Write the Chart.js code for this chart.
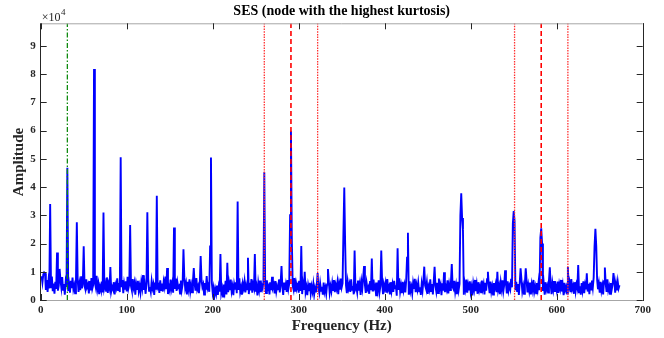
<!DOCTYPE html>
<html>
<head>
<meta charset="utf-8">
<script src="https://cdn.jsdelivr.net/npm/chart.js@4/dist/chart.umd.min.js"></script>
<style>
  html, body { margin: 0; padding: 0; background: #fff; }
  #wrap { width: 664px; height: 338px; }
</style>
</head>
<body>
<div id="wrap"><canvas id="chart" width="664" height="338"></canvas></div>
<script>
// SES spectrum, amplitudes in units of 1e4

const startHz = 1; // first frequency bin, 1 Hz spacing

// noise floor, one value per Hz (1..673)
const noise = [
  .85,.62,.9,.48,.95,.36,.71,.29,.66,.41,.78,.45,.83,.31,.58,.22,.64,.39,.76,.33,
  .51,.27,.69,.44,.81,.36,.57,.19,.63,.47,.74,.32,.55,.26,.68,.42,.79,.38,.52,.24,
  .66,.43,.71,.29,.58,.35,.84,.41,.62,.18,.49,.37,.73,.46,.55,.23,.67,.34,.78,.4,
  .53,.3,.61,.45,.86,.39,.57,.21,.48,.36,.65,.27,.72,.44,.59,.33,.8,.25,.56,.42,
  .69,.31,.47,.38,.63,.2,.54,.43,.77,.35,.6,.28,.52,.46,.71,.24,.58,.37,.66,.3,
  .82,.41,.55,.26,.49,.34,.74,.45,.61,.19,.57,.39,.68,.32,.5,.27,.64,.43,.88,.36,
  .53,.22,.6,.4,.75,.33,.46,.29,.67,.42,.56,.18,.62,.37,.79,.44,.51,.25,.7,.35,
  .58,.3,.65,.47,.83,.38,.54,.21,.48,.34,.72,.41,.6,.26,.57,.39,.76,.32,.63,.45,
  .5,.23,.69,.36,.55,.28,.81,.43,.59,.2,.64,.4,.73,.31,.52,.27,.66,.44,.57,.33,
  .78,.38,.49,.24,.62,.35,.7,.46,.56,.19,.6,.37,.85,.42,.53,.29,.68,.34,.61,.26,
  .44,.15,.38,.22,.51,.18,.47,.3,.62,.25,.41,.12,.55,.33,.68,.2,.46,.28,.59,.35,
  .72,.31,.48,.17,.56,.4,.63,.24,.5,.36,.77,.29,.45,.19,.58,.42,.66,.27,.53,.38,
  .49,.21,.61,.34,.74,.26,.55,.43,.8,.3,.47,.16,.6,.37,.69,.28,.52,.41,.64,.33,
  .57,.25,.7,.39,.48,.2,.63,.35,.82,.44,.54,.23,.67,.31,.5,.38,.73,.27,.59,.42,
  .46,.18,.62,.36,.55,.29,.71,.4,.58,.33,.65,.24,.51,.37,.78,.3,.6,.43,.53,.26,
  .68,.32,.49,.21,.57,.36,.74,.28,.45,.17,.52,.34,.61,.23,.48,.3,.56,.2,.43,.27,
  .5,.16,.41,.25,.58,.33,.47,.19,.62,.29,.44,.22,.55,.38,.66,.26,.49,.31,.6,.35,
  .71,.28,.54,.4,.63,.21,.57,.37,.76,.45,.59,.3,.68,.34,.52,.24,.65,.41,.56,.29,
  .73,.36,.5,.2,.61,.39,.47,.27,.69,.33,.55,.18,.64,.42,.8,.31,.53,.25,.6,.38,
  .46,.22,.67,.35,.58,.3,.72,.43,.51,.17,.62,.37,.7,.28,.49,.34,.65,.21,.56,.4,
  .59,.26,.74,.38,.48,.2,.63,.33,.55,.29,.68,.41,.52,.15,.6,.36,.77,.3,.5,.24,
  .64,.35,.53,.27,.71,.42,.58,.19,.66,.32,.47,.23,.6,.39,.75,.28,.54,.37,.62,.31,
  .45,.18,.57,.34,.69,.26,.51,.4,.63,.22,.48,.36,.73,.29,.56,.2,.65,.38,.5,.3,
  .61,.25,.76,.41,.54,.17,.59,.33,.67,.28,.49,.37,.7,.23,.55,.35,.62,.27,.46,.39,
  .68,.3,.52,.21,.64,.36,.57,.44,.79,.32,.5,.19,.6,.4,.72,.26,.53,.34,.66,.29,
  .47,.16,.58,.38,.71,.31,.55,.22,.63,.35,.49,.27,.69,.4,.56,.2,.61,.33,.74,.37,
  .52,.24,.65,.3,.48,.19,.6,.42,.57,.28,.67,.36,.51,.21,.62,.39,.7,.32,.54,.26,
  .59,.23,.66,.34,.5,.38,.75,.45,.8,.4,.7,.35,.64,.29,.56,.18,.61,.37,.73,.31,
  .49,.22,.58,.41,.68,.27,.53,.33,.62,.2,.55,.36,.71,.3,.47,.24,.6,.39,.66,.35,
  .72,.4,.78,.32,.57,.19,.63,.37,.5,.26,.69,.34,.54,.21,.6,.38,.67,.29,.48,.33,
  .65,.25,.56,.4,.71,.3,.52,.17,.61,.36,.47,.23,.68,.34,.58,.28,.74,.39,.5,.22,
  .63,.31,.55,.42,.7,.27,.49,.19,.6,.35,.66,.24,.53,.38,.76,.3,.57,.21,.62,.37,
  .69,.44,.8,.9,1.1,.95,.72,.38,.59,.26,.64,.33,.51,.2,.67,.4,.56,.29,.73,.35,
  .48,.22,.6,.37,.54,.3,.7,.26,.58,.34,.65,.41,.52
];

// spectral peaks
const peakHz  = [4, 11, 19, 22, 31, 42, 50, 62, 73, 81, 93, 104, 124, 135, 147, 155, 166, 178, 186,
                 197, 198, 209, 217, 229, 241, 249, 260, 280, 290, 291, 292, 303, 307, 322, 334,
                 352, 353, 354, 365, 376, 385, 396, 415, 426, 427, 446, 458, 469, 478,
                 488, 489, 490, 491, 520, 531, 540, 549, 550, 551, 558, 564,
                 581, 582, 583, 592, 613, 625, 635, 644, 645, 646, 656, 666];
const peakAmp = [0.98, 3.4, 1.68, 1.1, 4.68, 2.75, 1.9, 8.18, 3.1, 1.17, 5.06, 2.66, 3.11, 3.69, 1.13, 2.57, 1.8, 1.13, 1.56,
                 1.9, 5.05, 1.63, 1.32, 3.49, 1.5, 1.63, 4.52, 1.2, 3.0, 5.98, 2.2, 1.91, 1.0, 0.95, 1.1,
                 2.4, 3.98, 2.0, 1.75, 1.2, 1.47, 1.75, 1.83, 1.5, 2.38, 1.18, 1.18, 0.98, 1.27,
                 3.0, 3.78, 2.9, 2.5, 1.0, 1.0, 1.05, 2.7, 3.15, 2.8, 1.12, 1.12,
                 2.2, 2.54, 2.0, 1.16, 1.17, 1.24, 0.95, 1.9, 2.52, 1.9, 1.15, 0.95];

// marker lines
const shaftHz = 31;
const sideHz = [260, 322, 551, 613];
const faultHz = [291, 582];

const xTicks = [0, 100, 200, 300, 400, 500, 600, 700];
const yTicks = [0, 1, 2, 3, 4, 5, 6, 7, 8, 9];
const xMax = 700;
const yMax = 9.8;

const spectrum = noise.map((v, i) => ({ x: startHz + i, y: v }));
peakHz.forEach((f, k) => { spectrum[f - startHz].y = peakAmp[k]; });

const vline = f => [{ x: f, y: 0 }, { x: f, y: yMax }];

const datasets = [];
datasets.push({
  data: vline(shaftHz), borderColor: '#0f8a0f', borderWidth: 1.3,
  borderDash: [5, 2, 1.5, 2], pointRadius: 0, order: 1
});
sideHz.forEach(f => datasets.push({
  data: vline(f), borderColor: '#ff3030', borderWidth: 1.3,
  borderDash: [1.5, 1.2], pointRadius: 0, order: 1
}));
faultHz.forEach(f => datasets.push({
  data: vline(f), borderColor: '#ff0000', borderWidth: 1.6,
  borderDash: [5, 3], pointRadius: 0, order: 1
}));
datasets.push({
  data: spectrum, borderColor: '#0000ff', borderWidth: 1.9,
  pointRadius: 0, tension: 0, order: 2
});

const serif = '"Liberation Serif", "Times New Roman", serif';

// frame, inward ticks, titles, exponent label
const decor = {
  id: 'decor',
  afterDatasetsDraw(chart) {
    const { ctx, chartArea: a, scales } = chart;
    ctx.save();
    // box
    ctx.lineWidth = 1;
    ctx.strokeStyle = '#a6a6a6';
    ctx.beginPath();
    ctx.moveTo(a.left, a.top + 0.5); ctx.lineTo(a.right, a.top + 0.5);
    ctx.moveTo(a.left, a.bottom + 0.5); ctx.lineTo(a.right, a.bottom + 0.5);
    ctx.stroke();
    ctx.strokeStyle = '#262626';
    ctx.beginPath();
    ctx.moveTo(Math.round(a.left) - 0.5, a.top); ctx.lineTo(Math.round(a.left) - 0.5, a.bottom + 1);
    ctx.moveTo(Math.round(a.right) + 0.5, a.top); ctx.lineTo(Math.round(a.right) + 0.5, a.bottom + 1);
    // ticks
    const tl = 6;
    xTicks.forEach(v => {
      const px = Math.round(scales.x.getPixelForValue(v)) + 0.5;
      ctx.moveTo(px, a.bottom); ctx.lineTo(px, a.bottom - tl);
      ctx.moveTo(px, a.top); ctx.lineTo(px, a.top + tl);
    });
    yTicks.forEach(v => {
      const py = Math.round(scales.y.getPixelForValue(v)) + 0.5;
      ctx.moveTo(a.left, py); ctx.lineTo(a.left + tl, py);
      ctx.moveTo(a.right, py); ctx.lineTo(a.right - tl, py);
    });
    ctx.stroke();

    ctx.fillStyle = '#000';
    ctx.textAlign = 'center';
    ctx.textBaseline = 'middle';
    ctx.font = 'bold 14px ' + serif;
    ctx.fillText('SES (node with the highest kurtosis)', (a.left + a.right) / 2, 11);
    ctx.fillStyle = '#262626';
    ctx.font = 'bold 15px ' + serif;
    ctx.fillText('Frequency (Hz)', (a.left + a.right) / 2, 326);
    ctx.save();
    ctx.translate(19, 162);
    ctx.rotate(-Math.PI / 2);
    ctx.fillText('Amplitude', 0, 0);
    ctx.restore();

    // x10^4
    ctx.textAlign = 'left';
    ctx.textBaseline = 'alphabetic';
    ctx.font = '12px ' + serif;
    ctx.fillText('\u00d710', a.left + 1, 20.5);
    const w = ctx.measureText('\u00d710').width;
    ctx.font = '9px ' + serif;
    ctx.fillText('4', a.left + 1 + w + 0.5, 15);
    ctx.restore();
  }
};

new Chart(document.getElementById('chart'), {
  type: 'line',
  data: { datasets },
  options: {
    responsive: false,
    animation: false,
    events: [],
    layout: { padding: { top: 23.3, right: 21.3, left: 0, bottom: 0 } },
    plugins: { legend: { display: false }, tooltip: { enabled: false }, title: { display: false } },
    scales: {
      x: {
        type: 'linear', min: 0, max: xMax,
        afterFit: s => { s.height = 38; },
        afterBuildTicks: s => { s.ticks = xTicks.map(v => ({ value: v })); },
        grid: { display: false, drawTicks: false },
        border: { display: false },
        ticks: { padding: 4, maxRotation: 0, color: '#262626', font: { family: serif, size: 11, weight: 'bold' } }
      },
      y: {
        type: 'linear', min: 0, max: yMax,
        afterFit: s => { s.width = 40.7; },
        afterBuildTicks: s => { s.ticks = yTicks.map(v => ({ value: v })); },
        grid: { display: false, drawTicks: false },
        border: { display: false },
        ticks: { padding: 5, color: '#262626', font: { family: serif, size: 11, weight: 'bold' } }
      }
    }
  },
  plugins: [decor]
});
</script>
</body>
</html>
